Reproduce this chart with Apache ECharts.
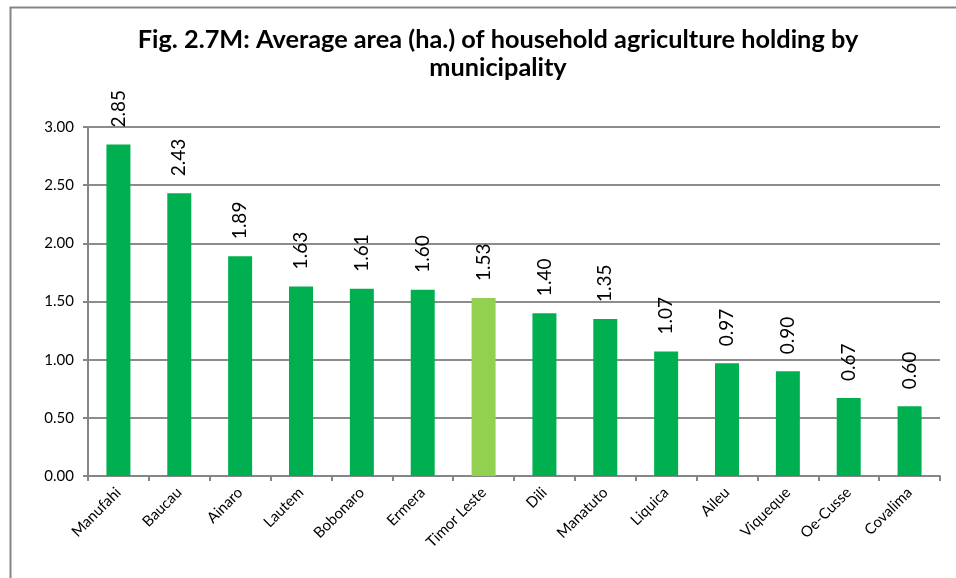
<!DOCTYPE html>
<html>
<head>
<meta charset="utf-8">
<script src="https://cdn.jsdelivr.net/npm/echarts@6/dist/echarts.min.js"></script>
<style>html,body{margin:0;padding:0;background:#fff;}#c{width:956px;height:578px;}</style>
</head>
<body>
<div id="c"></div>
<script>
var categories = ['Manufahi','Baucau','Ainaro','Lautem','Bobonaro','Ermera','Timor Leste','Dili','Manatuto','Liquica','Aileu','Viqueque','Oe-Cusse','Covalima'];
var values = [2.85, 2.43, 1.89, 1.63, 1.61, 1.60, 1.53, 1.40, 1.35, 1.07, 0.97, 0.90, 0.67, 0.60];
var highlight = 'Timor Leste';
var yTicks = [0, 0.5, 1.0, 1.5, 2.0, 2.5, 3.0];
var titleText = 'Fig. 2.7M: Average area (ha.) of household agriculture holding by\nmunicipality';

var FONT = 'Lato, "Open Sans", sans-serif';
var chart = echarts.init(document.getElementById('c'), null, {renderer: 'canvas'});
chart.setOption({
  animation: false,
  backgroundColor: '#fff',
  graphic: [{
    type: 'rect', left: 8, top: 5, silent: true,
    shape: {x: 0, y: 0, width: 1000, height: 700},
    style: {fill: 'none', stroke: '#858585', lineWidth: 2}
  }],
  title: {
    text: titleText, left: 493, textAlign: 'center', top: 21,
    textStyle: {fontFamily: FONT, fontWeight: 'bold', fontSize: 25.3, color: '#000', lineHeight: 28}
  },
  grid: {left: 88, right: 16, top: 127, bottom: 102, containLabel: false},
  xAxis: {
    type: 'category', data: categories,
    axisLine: {lineStyle: {color: '#868686', width: 2}},
    axisTick: {show: true, alignWithLabel: false, length: 5, lineStyle: {color: '#868686', width: 2}},
    axisLabel: {rotate: 45, fontFamily: FONT, fontSize: 15, color: '#000', margin: 14, interval: 0}
  },
  yAxis: {
    type: 'value', min: 0, max: 3, interval: 0.5,
    axisLine: {show: true, lineStyle: {color: '#868686', width: 2}},
    axisTick: {show: true, length: 5, lineStyle: {color: '#868686', width: 2}},
    splitLine: {lineStyle: {color: '#8c8c8c', width: 2}},
    axisLabel: {fontFamily: FONT, fontSize: 15, color: '#000', margin: 14,
      formatter: function (v) { return v.toFixed(2); }}
  },
  series: [{
    type: 'bar',
    barWidth: 24,
    data: values.map(function (v, i) {
      return {value: v, itemStyle: {color: categories[i] === highlight ? '#92D050' : '#00B050'}};
    }),
    label: {
      show: true, position: 'top', rotate: 90, align: 'left', verticalAlign: 'middle',
      distance: 17, fontFamily: FONT, fontSize: 19, color: '#000',
      formatter: function (p) { return p.value.toFixed(2); }
    }
  }]
});
</script>
</body>
</html>
